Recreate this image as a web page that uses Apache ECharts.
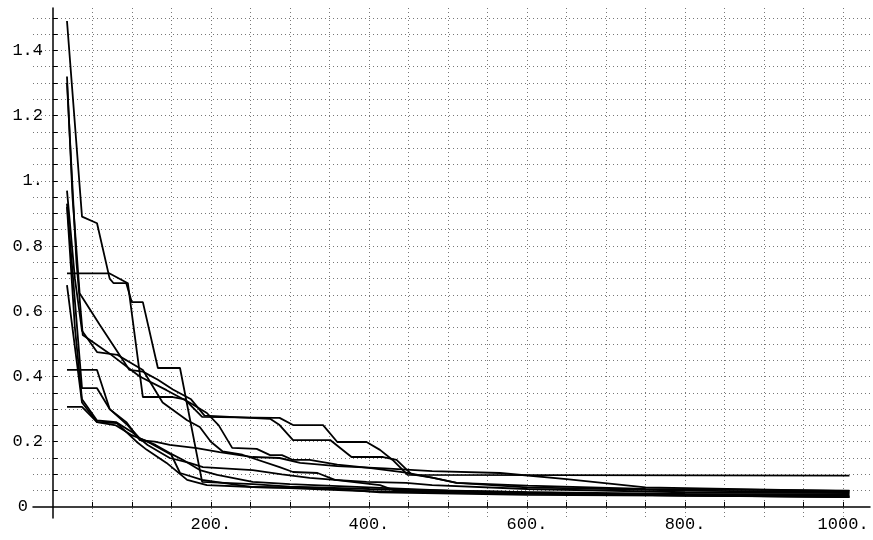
<!DOCTYPE html>
<html>
<head>
<meta charset="utf-8">
<script src="https://cdn.jsdelivr.net/npm/echarts@6/dist/echarts.min.js"></script>
<style>
  html, body { margin: 0; padding: 0; background: #fff; }
  #chart { width: 873px; height: 540px; }
</style>
</head>
<body>
<div id="chart"></div>
<script>
// tick values / labels
var xLabelVals = [200, 400, 600, 800, 1000];
var yLabelVals = [0, 0.2, 0.4, 0.6, 0.8, 1.0, 1.2, 1.4];
var xGridVals = [];
for (var i = 50; i <= 1000; i += 50) xGridVals.push(i);
var yGridVals = [];
for (var j = 1; j <= 30; j++) yGridVals.push(+(j * 0.05).toFixed(2));

// runs: [iteration, value]
var run1 = [[18,1.49],[37,0.89],[56,0.87],[72,0.70],[77,0.686],[93,0.686],[100,0.628],[114,0.628],[133,0.426],[161,0.426],[189,0.077],[253,0.07],[300,0.062],[400,0.055],[600,0.045],[800,0.04],[1008,0.038]];
var run2 = [[18,1.32],[25,0.95],[34,0.655],[59,0.56],[97,0.42],[114,0.415],[133,0.39],[152,0.36],[175,0.33],[192,0.28],[275,0.27],[287,0.251],[304,0.205],[351,0.205],[378,0.153],[418,0.153],[435,0.144],[454,0.1],[480,0.09],[511,0.074],[600,0.065],[750,0.055],[1008,0.05]];
var run3 = [[18,1.30],[30,0.75],[38,0.527],[72,0.47],[110,0.40],[144,0.358],[173,0.32],[195,0.288],[210,0.25],[227,0.181],[258,0.178],[275,0.159],[290,0.159],[304,0.144],[325,0.144],[360,0.13],[400,0.12],[447,0.105],[480,0.09],[511,0.074],[600,0.06],[800,0.05],[1008,0.045]];
var run4 = [[18,0.97],[28,0.7],[37,0.54],[56,0.475],[82,0.466],[114,0.42],[139,0.32],[170,0.266],[186,0.245],[200,0.2],[215,0.17],[240,0.16],[287,0.122],[304,0.107],[335,0.104],[357,0.083],[397,0.077],[447,0.074],[480,0.067],[600,0.055],[800,0.045],[1008,0.042]];
var run5 = [[18,0.93],[37,0.364],[56,0.364],[72,0.30],[93,0.26],[110,0.205],[129,0.2],[148,0.19],[182,0.18],[211,0.168],[253,0.153],[287,0.15],[313,0.135],[360,0.125],[420,0.118],[480,0.11],[566,0.104],[650,0.085],[750,0.06],[1008,0.048]];
var run6 = [[18,0.92],[28,0.55],[37,0.33],[56,0.265],[80,0.26],[100,0.23],[120,0.19],[148,0.15],[173,0.135],[190,0.122],[253,0.113],[290,0.1],[325,0.089],[357,0.083],[414,0.067],[433,0.05],[566,0.043],[800,0.035],[1008,0.03]];
var run7 = [[18,0.716],[72,0.716],[95,0.686],[114,0.337],[152,0.337],[167,0.33],[189,0.276],[280,0.273],[287,0.273],[304,0.251],[342,0.251],[360,0.199],[397,0.199],[414,0.175],[430,0.144],[449,0.098],[1008,0.096]];
var run8 = [[18,0.68],[37,0.32],[56,0.26],[81,0.257],[106,0.2],[119,0.175],[144,0.135],[170,0.083],[195,0.067],[253,0.061],[342,0.058],[375,0.052],[414,0.045],[600,0.037],[1008,0.032]];
var run9 = [[18,0.42],[56,0.42],[72,0.30],[95,0.25],[110,0.21],[130,0.19],[148,0.165],[165,0.144],[186,0.113],[208,0.098],[253,0.077],[300,0.07],[400,0.06],[500,0.05],[700,0.04],[1008,0.035]];
var run10 = [[18,0.307],[37,0.307],[56,0.26],[80,0.25],[100,0.22],[120,0.2],[150,0.16],[161,0.104],[189,0.083],[215,0.074],[253,0.061],[300,0.058],[400,0.048],[600,0.04],[1008,0.03]];

var runs = [run1, run2, run3, run4, run5, run6, run7, run8, run9, run10];

var monoFont = '"Liberation Mono", "DejaVu Sans Mono", monospace';
var chart = echarts.init(document.getElementById('chart'), null, { renderer: 'canvas' });

var series = [];
for (var k = 0; k < runs.length; k++) {
    series.push({
        type: 'line',
        data: runs[k],
        showSymbol: false,
        silent: true,
        lineStyle: { color: '#000', width: 1.8 }
    });
}

var option = {
    animation: false,
    backgroundColor: '#fff',
    grid: { left: 33, right: 3, top: 8, bottom: 22, outerBoundsMode: 'none', containLabel: false },
    xAxis: {
        type: 'value',
        min: -25,
        max: 1034,
        axisLine: { onZero: true, lineStyle: { color: '#000', width: 1.5 } },
        axisTick: { show: true, inside: true, length: 5, customValues: xGridVals, lineStyle: { color: '#000' } },
        axisLabel: {
            customValues: xLabelVals,
            formatter: function (v) { return v + '.'; },
            color: '#000', fontFamily: monoFont, fontSize: 17, margin: -2
        },
        splitLine: { show: true, lineStyle: { color: '#777', type: [1, 3], width: 1 } }
    },
    yAxis: {
        type: 'value',
        min: -0.034,
        max: 1.53,
        axisLine: { onZero: true, lineStyle: { color: '#000', width: 1.5 } },
        axisTick: { show: true, inside: true, length: 5, customValues: yGridVals, lineStyle: { color: '#000' } },
        axisLabel: {
            customValues: yLabelVals,
            formatter: function (v) {
                if (v === 0) return '{z|0}';
                var s = v.toFixed(1);
                if (s === '1.0') return '1.';
                return s;
            },
            rich: { z: { padding: [0, 15, 0, 0], fontFamily: monoFont, fontSize: 17, color: '#000' } },
            color: '#000', fontFamily: monoFont, fontSize: 17, margin: -10
        },
        splitLine: { show: true, lineStyle: { color: '#777', type: [1, 3], width: 1 } }
    },
    series: series
};
chart.setOption(option);
</script>
</body>
</html>
